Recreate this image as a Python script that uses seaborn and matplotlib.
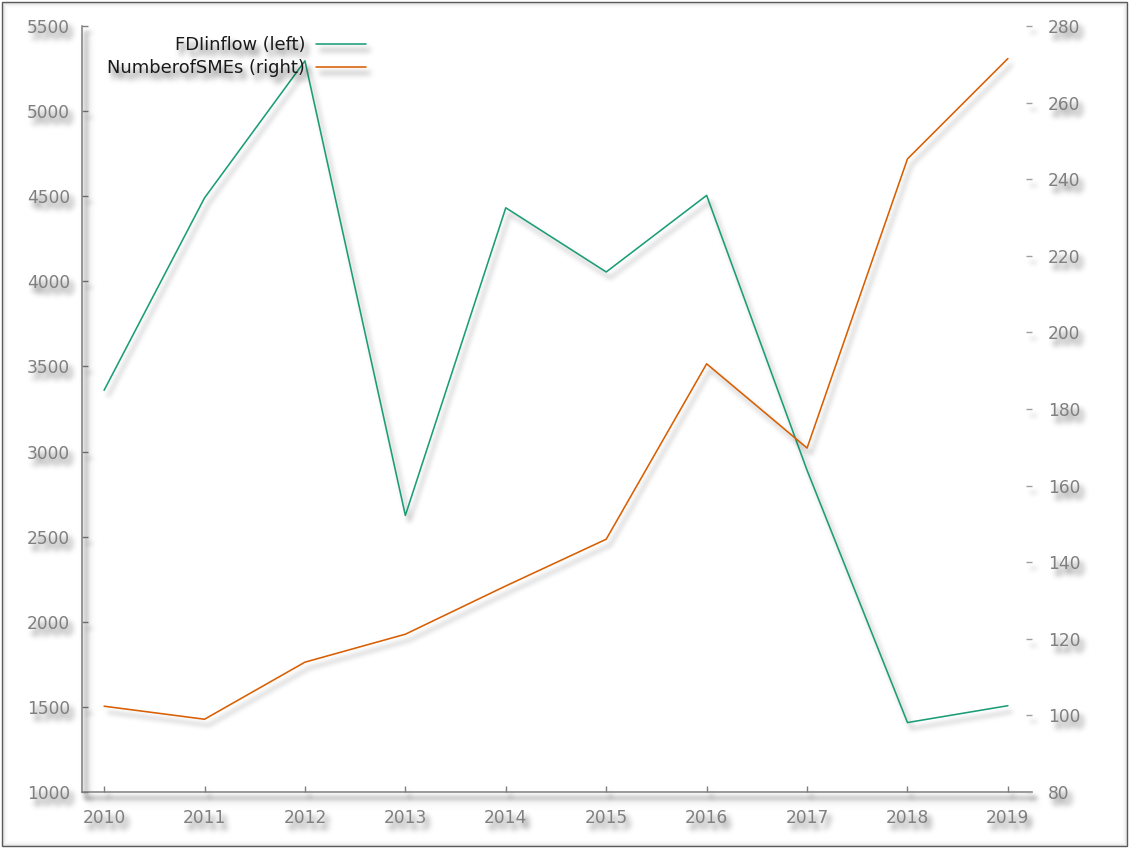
import matplotlib
matplotlib.use("Agg")
import matplotlib.pyplot as plt
from matplotlib.patches import Rectangle
import numpy as np
import pandas as pd
import seaborn as sns

# ---- data -------------------------------------------------------------
years = [2010, 2011, 2012, 2013, 2014, 2015, 2016, 2017, 2018, 2019]
fdi_inflow = [3360, 4490, 5295, 2625, 4432, 4055, 4505, 2890, 1408, 1507]
number_of_smes = [102.4, 99.0, 113.9, 121.2, 133.8, 146.0, 191.8, 169.8, 245.3, 271.5]
left_ticks = [1000, 1500, 2000, 2500, 3000, 3500, 4000, 4500, 5000, 5500]
right_ticks = [80, 100, 120, 140, 160, 180, 200, 220, 240, 260, 280]
series_labels = ["FDIinflow (left)", "NumberofSMEs (right)"]
series_colors = ["#1b9e77", "#d95f02"]

# ---- style ------------------------------------------------------------
sns.set_theme(style="white")
plt.rcParams["font.family"] = ["DejaVu Sans"]

W, H = 1129, 848
FS = 12.24          # tick label size in points (17 px)
FS_LEG = 12.9       # legend label size
GREY = "#7f7f7f"


class SoftShadow:
    """Agg filter: draws the artist on top of a blurred, offset drop shadow."""

    def __init__(self, dx=4, dy=5, sigma=2.5, alpha=0.45, color=(0.0, 0.0, 0.0)):
        self.dx, self.dy = dx, dy
        self.sigma, self.alpha = sigma, alpha
        self.color = color
        r = int(3 * sigma + 0.5)
        x = np.arange(-r, r + 1)
        k = np.exp(-0.5 * (x / sigma) ** 2)
        self.kernel = k / k.sum()
        self.pad = r + max(abs(dx), abs(dy)) + 2

    def _blur(self, a):
        k = self.kernel
        a = np.apply_along_axis(lambda v: np.convolve(v, k, mode="same"), 0, a)
        a = np.apply_along_axis(lambda v: np.convolve(v, k, mode="same"), 1, a)
        return a

    def __call__(self, im, dpi):
        p = self.pad
        src = np.pad(im, ((p, p), (p, p), (0, 0)), mode="constant")
        sa = src[..., 3]
        sh = self._blur(sa) * self.alpha
        sh = np.roll(np.roll(sh, self.dy, axis=0), self.dx, axis=1)
        out = np.empty_like(src)
        out_a = sa + sh * (1.0 - sa)
        safe = np.maximum(out_a, 1e-6)
        for c in range(3):
            out[..., c] = (src[..., c] * sa + self.color[c] * sh * (1.0 - sa)) / safe
        out[..., 3] = out_a
        return np.clip(out, 0.0, 1.0), -p, -p


fig = plt.figure(figsize=(W / 100, H / 100), dpi=100)
fig.patch.set_facecolor("white")

ax = fig.add_axes([82 / W, 1 - 792 / H, (1032 - 82) / W, (792 - 26) / H])
ax2 = ax.twinx()

df = pd.DataFrame({"year": years, "FDIinflow": fdi_inflow, "NumberofSMEs": number_of_smes})

sns.lineplot(data=df, x="year", y="FDIinflow", ax=ax, color=series_colors[0],
             linewidth=1.15, legend=False)
sns.lineplot(data=df, x="year", y="NumberofSMEs", ax=ax2, color=series_colors[1],
             linewidth=1.15, legend=False)

line_fdi = ax.lines[-1]
line_sme = ax2.lines[-1]
line_shadow = SoftShadow(dx=4, dy=6, sigma=2.6, alpha=0.38)
for ln in (line_fdi, line_sme):
    ln.set_agg_filter(line_shadow)

# ---- axes -------------------------------------------------------------
ax.set_xlim(2009.78, 2019.24)
ax.set_ylim(left_ticks[0], left_ticks[-1])
ax2.set_ylim(right_ticks[0], right_ticks[-1])

ax.set_xticks(years)
ax.set_xticklabels([str(y) for y in years])
ax.set_yticks(left_ticks)
ax.set_yticklabels([str(v) for v in left_ticks])
ax2.set_yticks(right_ticks)
ax2.set_yticklabels([str(v) for v in right_ticks])

for a in (ax, ax2):
    a.set_xlabel("")
    a.set_ylabel("")
    a.grid(False)
    a.set_facecolor("none")

for side in ("top", "right"):
    ax.spines[side].set_visible(False)
for side in ax2.spines:
    ax2.spines[side].set_visible(False)
for side in ("left", "bottom"):
    ax.spines[side].set_color(GREY)
    ax.spines[side].set_linewidth(1.1)
    ax.spines[side].set_agg_filter(line_shadow)

ax.tick_params(axis="y", direction="in", length=4.3, width=1.0, color=GREY,
               labelcolor=GREY, labelsize=FS, pad=8.6, left=True, right=False)
ax.tick_params(axis="x", direction="in", length=4.3, width=1.0, color=GREY,
               labelcolor=GREY, labelsize=FS, pad=12, bottom=True, top=False)
ax2.tick_params(axis="y", direction="in", length=4.3, width=1.0, color="#a0a0a0",
                labelcolor=GREY, labelsize=FS, pad=11.5, right=True, left=False)

text_shadow = SoftShadow(dx=4, dy=6, sigma=3.0, alpha=0.6)
for lab in ax.get_xticklabels() + ax.get_yticklabels() + ax2.get_yticklabels():
    lab.set_agg_filter(text_shadow)
for t in ax.xaxis.get_major_ticks() + ax.yaxis.get_major_ticks():
    t.tick1line.set_agg_filter(line_shadow)
for t in ax2.yaxis.get_major_ticks():
    t.tick2line.set_agg_filter(line_shadow)

# ---- legend -----------------------------------------------------------
leg = ax2.legend([line_fdi, line_sme], series_labels,
                 loc="upper right", bbox_to_anchor=(366 / W, 1 - 36 / H),
                 bbox_transform=fig.transFigure, frameon=False, markerfirst=False,
                 borderpad=0, borderaxespad=0, handlelength=50 / 17.9,
                 handletextpad=0.6, labelspacing=0.3, fontsize=FS_LEG)
for txt in leg.get_texts():
    txt.set_color("#1a1a1a")
leg.set_agg_filter(text_shadow)

# ---- outer frame --------------------------------------------------------
for i, alpha in enumerate([0.10, 0.07, 0.045, 0.025, 0.012]):
    inset = 3 + i
    fig.patches.append(Rectangle((inset / W, inset / H), (W - 2 * inset) / W,
                                 (H - 2 * inset) / H, transform=fig.transFigure,
                                 fill=False, edgecolor="black", alpha=alpha,
                                 linewidth=0.75, zorder=0))
fig.patches.append(Rectangle((1.5 / W, 2.5 / H), (W - 3.5) / W, (H - 4) / H,
                             transform=fig.transFigure, fill=False,
                             edgecolor="#5a5a5a", linewidth=1.0, zorder=0))

fig.savefig("out.png", dpi=100, facecolor="white")
